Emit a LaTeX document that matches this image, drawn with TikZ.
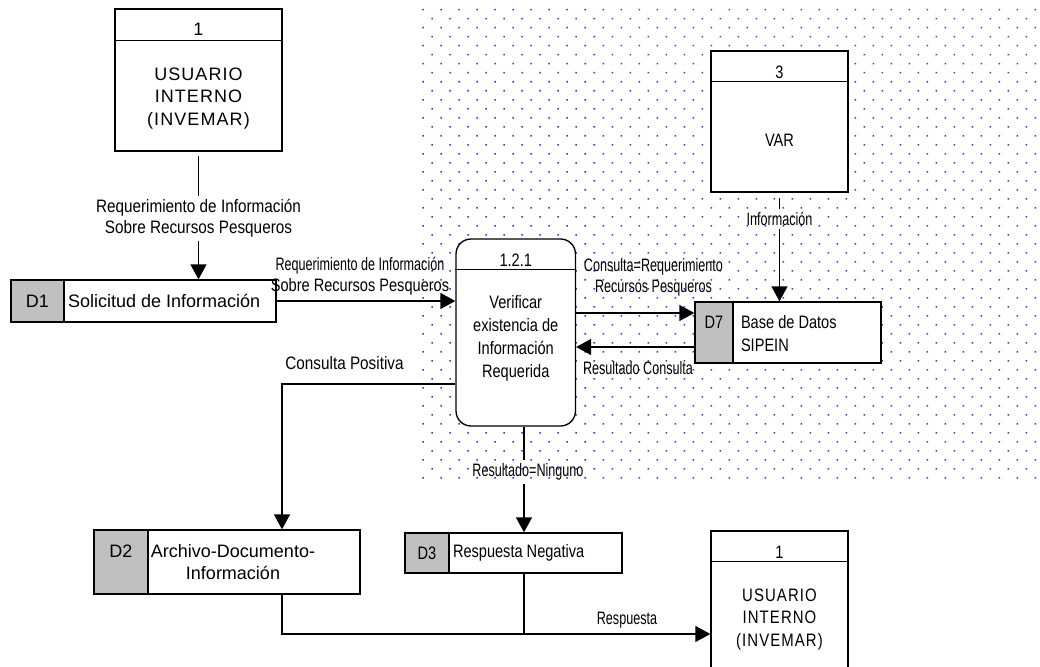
\documentclass[tikz,border=0pt]{standalone}
\usepackage{fontspec}
\setmainfont{Liberation Sans}
\newfontfamily\procfont[FakeStretch=0.81]{Liberation Sans}
\newfontfamily\wideflowfont[FakeStretch=0.85]{Liberation Sans}
\newfontfamily\flowfont[FakeStretch=0.70]{Liberation Sans}
\newfontfamily\entfont[LetterSpace=6]{Liberation Sans}
\newfontfamily\nentfont[FakeStretch=0.83,LetterSpace=6]{Liberation Sans}
\usepackage{tikz}
\usetikzlibrary{arrows.meta,patterns.meta,calc}

\definecolor{idgray}{RGB}{192,192,192}
\definecolor{dotblue}{RGB}{50,50,255}
\newcommand\dfdsize{\fontsize{13.5}{17}\selectfont}

\tikzset{
  flow/.style={-{Triangle[length=11.25pt,width=12pt]}},
  entbox/.style={draw, fill=white, inner sep=0pt},
  procbox/.style={draw, fill=white, rounded corners=11.25pt, inner sep=0pt},
  storebox/.style={draw, fill=white, inner sep=0pt},
  idbox/.style={draw, fill=idgray, inner sep=0pt, font=\dfdsize},
  boxtxt/.style={inner sep=1pt, align=center, font=\dfdsize},
  ptxt/.style={inner sep=1pt, align=center, font=\procfont\dfdsize},
  enttxt/.style={inner sep=1pt, align=center, font=\entfont\fontsize{13.5}{17}\selectfont},
  nenttxt/.style={inner sep=1pt, align=center, font=\nentfont\fontsize{13.5}{17}\selectfont},
  flowlbl/.style={inner sep=2pt, align=center, font=\flowfont\fontsize{13.5}{16}\selectfont},
  wlbl/.style={inner sep=2pt, align=center, font=\wideflowfont\fontsize{13.5}{16}\selectfont}
}

\begin{document}
\begin{tikzpicture}[x=0.75pt,y=0.75pt,yscale=-1,xscale=1,line width=1pt]
        \useasboundingbox (0,0) rectangle (1040,667);
        \clip (0,0) rectangle (1040,667);
        %Shape: Dotted area
        \fill[pattern={Dots[distance=9.55pt,angle=45,radius=0.8pt]}, pattern color=dotblue] (422,7) rectangle (1040,483);
        \coordinate (qy) at (0,313);
        \coordinate (ry) at (0,347);
        \coordinate (cp) at (282,384);
        \coordinate (rsp) at (524,634);

        %Shape: Entity 1 (top)
        \node[entbox, minimum width=125.25pt, minimum height=106.5pt] (usr) at (198.5,80) {};
        \draw ($(usr.north west)+(0,32)$) -- ($(usr.north east)+(0,32)$);
        \node[boxtxt] (usrnum) at (198.5,29) {1};
        \node[enttxt] (usrtxt) at (198.5,98.5) {USUARIO\\INTERNO\\(INVEMAR)};

        %Shape: Entity 3
        \node[entbox, minimum width=102.75pt, minimum height=105.75pt] (var) at (779.5,121.5) {};
        \draw ($(var.north west)+(0,31)$) -- ($(var.north east)+(0,31)$);
        \node[ptxt] (varnum) at (779.5,72.5) {3};
        \node[ptxt] (vartxt) at (779.5,140) {VAR};

        %Shape: Entity 1 (bottom)
        \node[entbox, minimum width=102.75pt, minimum height=126.75pt] (usr2) at (779.5,615.5) {};
        \draw ($(usr2.north west)+(0,31)$) -- ($(usr2.north east)+(0,31)$);
        \node[ptxt] (usr2num) at (779.5,552.5) {1};
        \node[nenttxt] (usr2txt) at (779.5,619.5) {USUARIO\\INTERNO\\(INVEMAR)};

        %Shape: Process 1.2.1
        \node[procbox, minimum width=89.6pt, minimum height=140.25pt] (proc) at (515.75,332.5) {};
        \draw ($(proc.north west)+(0,31)$) -- ($(proc.north east)+(0,31)$);
        \node[ptxt] (procnum) at (515.75,260) {1.2.1};
        \node[ptxt, font=\procfont\fontsize{13.5}{17.25}\selectfont] (proctxt) at (515.75,338) {Verificar\\existencia de\\Información\\Requerida};

        %Shape: Store D1
        \node[storebox, minimum width=198.75pt, minimum height=31.5pt] (d1) at (143.5,301) {};
        \node[idbox, minimum width=39.75pt, minimum height=31.5pt] (d1id) at (37.5,301) {D1};
        \node[boxtxt, anchor=west] (d1txt) at (66,301) {Solicitud de Información};

        %Shape: Store D2
        \node[storebox, minimum width=199.5pt, minimum height=48pt] (d2) at (227,562) {};
        \node[idbox, minimum width=40.5pt, minimum height=48pt] (d2id) at (121,562) {};
        \node[boxtxt] (d2idtxt) at (121,551) {D2};
        \node[boxtxt, font=\fontsize{13.5}{16.5}\selectfont] (d2txt) at (233,562) {Archivo-Documento-\\Información};

        %Shape: Store D3
        \node[storebox, minimum width=162.75pt, minimum height=30pt] (d3) at (513.5,553) {};
        \node[idbox, minimum width=33pt, minimum height=30pt, font=\procfont\dfdsize] (d3id) at (427,553) {D3};
        \node[ptxt, anchor=west] (d3txt) at (451,553) {Respuesta Negativa};

        %Shape: Store D7
        \node[storebox, minimum width=139.5pt, minimum height=45.75pt] (d7) at (788,332.5) {};
        \node[idbox, minimum width=28.5pt, minimum height=45.75pt] (d7id) at (714,332.5) {};
        \node[ptxt] (d7idtxt) at (714,322) {D7};
        \node[ptxt, anchor=west, align=left, font=\procfont\fontsize{13.5}{17.25}\selectfont] (d7txt) at (739,333.5) {Base de Datos\\SIPEIN};

        %Straight Lines: entity 1 -> D1
        \node[wlbl] (req1) at (198.5,218.5) {Requerimiento de Información\\Sobre Recursos Pesqueros};
        \draw[shorten <=3pt] (usr) -- (req1);
        \draw[flow] (req1) -- (req1 |- d1.north);

        %Straight Lines: D1 -> process
        \draw[flow] (d1.east) -- (proc.west |- d1.east);
        \node[flowlbl] (req2) at (360,276) {Requerimiento de Información\\{\procfont Sobre Recursos Pesqueros}};

        %Straight Lines: process <-> D7
        \draw[flow] (proc.east |- qy) -- (d7.west |- qy);
        \node[flowlbl] (cons) at (653.5,277.5) {Consulta=Requerimiento\\Recursos Pesqueros};
        \draw[flow] (d7.west |- ry) -- (proc.east |- ry);
        \node[flowlbl] (rescons) at (638,368) {Resultado Consulta};

        %Straight Lines: entity 3 -> D7
        \node[flowlbl] (info) at (779.5,219) {Información};
        \draw[shorten <=4pt] (var) -- (info);
        \draw[flow] (info) -- (info |- d7.north);

        %Straight Lines: process -> D2
        \draw[flow] (proc.west |- cp) -- (cp) -- (cp |- d2.north);
        \node[wlbl] (conspos) at (344.5,363) {Consulta Positiva};

        %Straight Lines: process -> D3
        \node[flowlbl] (ning) at (528,472) {Resultado=Ninguno};
        \draw (proc.south -| rsp) -- (rsp |- ning.north);
        \draw[flow] (rsp |- ning.south) -- (rsp |- d3.north);

        %Straight Lines: D2, D3 -> entity 1
        \draw[flow] (cp |- d2.south) |- (usr2.west |- rsp);
        \draw (rsp |- d3.south) -- (rsp);
        \node[flowlbl] (resp) at (627,620) {Respuesta};
\end{tikzpicture}
\end{document}
